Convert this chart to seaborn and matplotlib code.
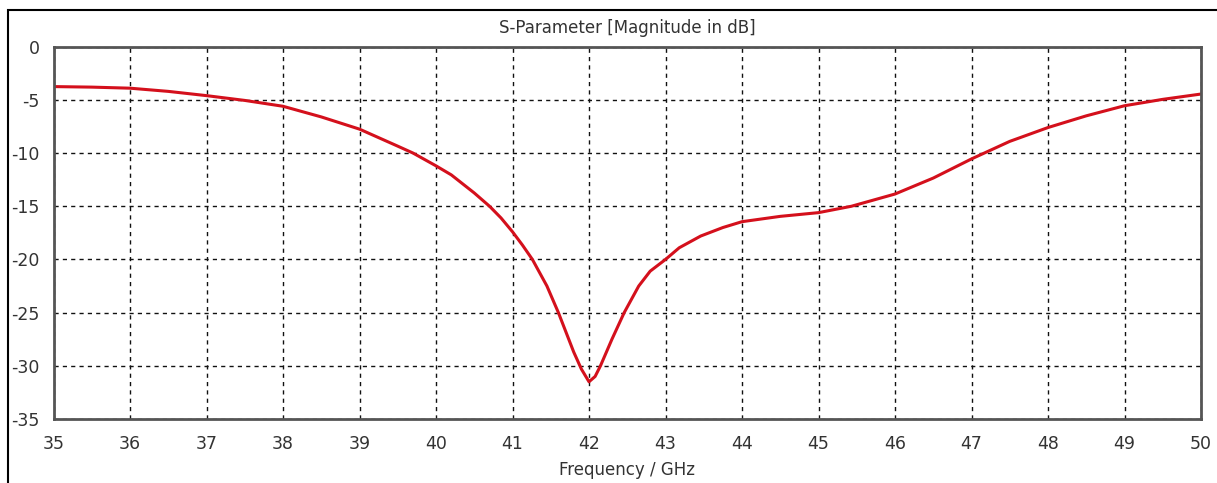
import matplotlib
matplotlib.use("Agg")
import matplotlib.pyplot as plt
import seaborn as sns
import pandas as pd
from matplotlib.patches import Rectangle

freq_ghz = [35, 35.5, 36, 36.5, 37, 37.5, 38, 38.5, 39, 39.5, 39.7, 40, 40.2, 40.5, 40.7, 40.85, 41, 41.13, 41.26, 41.45,
            41.6, 41.8, 41.9, 42.0, 42.08, 42.15, 42.3, 42.46, 42.65, 42.8, 43.0, 43.18, 43.46, 43.75, 44.0, 44.5, 45.0,
            45.43, 46.0, 46.5, 47.0, 47.5, 48.0, 48.5, 49.0, 49.5, 50.0]
s11_db = [-3.75, -3.8, -3.9, -4.2, -4.6, -5.05, -5.6, -6.6, -7.75, -9.35, -10.0, -11.2, -12.05, -13.75, -15.0, -16.1,
          -17.4, -18.65, -20.0, -22.5, -25.0, -28.7, -30.3, -31.5, -31.0, -30.0, -27.5, -25.0, -22.5, -21.1, -20.0,
          -18.9, -17.8, -17.0, -16.45, -15.95, -15.6, -15.0, -13.85, -12.35, -10.55, -8.9, -7.6, -6.5, -5.55, -4.95,
          -4.45]

tick_x = list(range(35, 51))
tick_y = [0, -5, -10, -15, -20, -25, -30, -35]

df = pd.DataFrame({"Frequency": freq_ghz, "S11": s11_db})

sns.set_style("white")
plt.rcParams['font.family'] = ['DejaVu Sans']

W, H = 1217, 483
fig = plt.figure(figsize=(W / 100, H / 100), dpi=100)
ax = fig.add_axes([53.5 / W, (H - 419) / H, (1201 - 53.5) / W, (419 - 46.7) / H])

sns.lineplot(data=df, x="Frequency", y="S11", ax=ax, color="#d4101c", linewidth=2.2)

ax.set_xlim(35, 50)
ax.set_ylim(-35, 0)
ax.set_xticks(tick_x)
ax.set_yticks(tick_y)
ax.set_xticklabels([str(t) for t in tick_x], fontsize=12.5, color="#333333")
ax.set_yticklabels([str(t) for t in tick_y], fontsize=12.5, color="#333333")
ax.grid(True, color="#111111", linestyle=(0, (3, 3)), linewidth=1.0)
for s in ax.spines.values():
    s.set_color("#555555")
    s.set_linewidth(2.0)
    s.set_visible(True)
ax.tick_params(axis="x", direction="inout", length=9, width=1.5, color="#444444", pad=7)
ax.tick_params(axis="y", direction="out", length=5, width=1.5, color="#444444", pad=5)
ax.set_xlabel("Frequency / GHz", fontsize=12, color="#333333", labelpad=6)
ax.set_ylabel("")
ax.set_title("S-Parameter [Magnitude in dB]", fontsize=12, color="#333333", pad=10)

fig.patches.append(Rectangle((8 / W, -0.1), 1.2, (H - 10) / H + 0.1, transform=fig.transFigure,
                             fill=False, edgecolor="black", linewidth=1.5, zorder=-1))

fig.savefig("out.png", dpi=100)
